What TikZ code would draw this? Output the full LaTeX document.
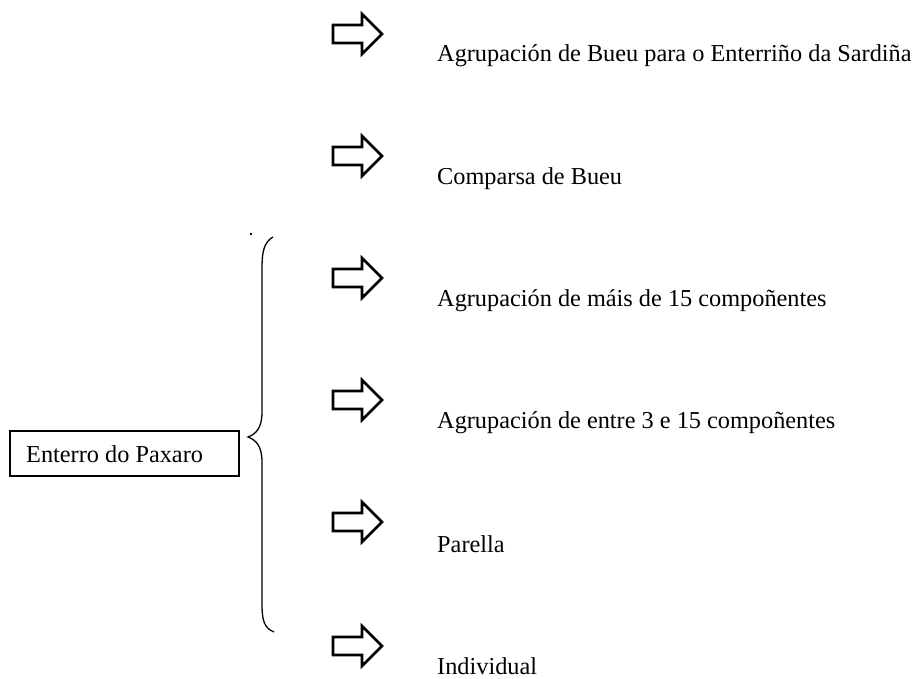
\documentclass[tikz,border=0pt]{standalone}
\usepackage{fontspec}
\setmainfont{Liberation Serif}
\begin{document}
\begin{tikzpicture}[x=1pt,y=-1pt,
  lbl/.style={anchor=base west,inner sep=0pt,font=\fontsize{24.3}{28}\selectfont},
  fatarrow/.style={draw=black,line width=2.6pt,fill=white,line join=miter}]
\useasboundingbox (0,0) rectangle (915,678);
% arrows
\foreach \y [count=\i] in {34,156,278,400,522,646}{
  \draw[fatarrow] (333,\y-9) -- (362,\y-9) -- (362,\y-20) -- (382,\y) -- (362,\y+20) -- (362,\y+9) -- (333,\y+9) -- cycle;
}
% labels
\node[lbl] (t1) at (437,61) {Agrupación de Bueu para o Enterriño da Sardiña};
\node[lbl] (t2) at (437,184) {Comparsa de Bueu};
\node[lbl] (t3) at (437,306) {Agrupación de máis de 15 compoñentes};
\node[lbl] (t4) at (437,428) {Agrupación de entre 3 e 15 compoñentes};
\node[lbl] (t5) at (437,552) {Parella};
\node[lbl] (t6) at (437,674) {Individual};
% box
\node[draw,line width=1.5pt,minimum width=229pt,minimum height=45pt,anchor=north west,inner sep=0pt] (box) at (9,430) {};
\node[lbl] (bt) at (26,462) {Enterro do Paxaro};
% brace
\draw[line width=1.3pt] (273,237) .. controls (264,242) and (262,252) .. (262,268)
  -- (262,412) .. controls (262,428) and (256,434) .. (248,437)
  .. controls (256,440) and (262,446) .. (262,462)
  -- (262,604) .. controls (262,620) and (264,628) .. (274,632);
\fill (251,234) circle (1.4);
\end{tikzpicture}
\end{document}
